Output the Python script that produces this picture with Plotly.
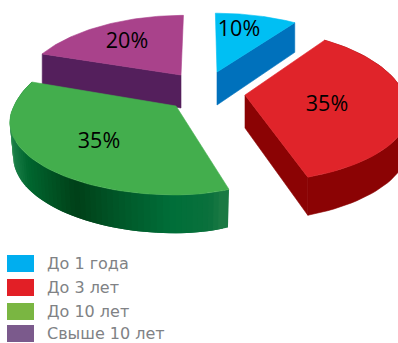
import math
import plotly.graph_objects as go

# Shares of each tenure group, clockwise from twelve o'clock
categories = ["До 1 года", "До 3 лет", "До 10 лет", "Свыше 10 лет"]
shares = [10, 35, 35, 20]
labels = ["10%", "35%", "35%", "20%"]

top_colors = ["#00bff3", "#e0242a", "#43ae4d", "#a9428b"]
wall_colors = ["#0071bc", "#8b0304", None, "#541f5c"]
legend_colors = ["#00aeef", "#e21f26", "#7ab642", "#7b5a8c"]

# Tilted-pie projection: exploded slice tips and per-slice scale factors
TIPS = [(217, 72), (245, 95), (176, 106), (181, 75)]
SCALES = [  # left, right, front, back, shear
    (159, 159, 70, 72, -2),
    (160, 160, 68, 80, 0),
    (162, 135, 69, 83, 0),
    (157, 157, 70, 73, 3),
]
LABEL_POS = [(239, 31), (327, 106), (99, 143), (127, 43)]
LEGEND_Y = [263.5, 287.5, 311.5, 333.5]
PERSPECTIVE = 0.224
DEPTH = 33
DEPTH_PERSPECTIVE = 0.14

# Side-wall shading of the green slice, by horizontal pixel position
GREEN_STOPS = [(9, (60, 150, 90)), (14, (25, 125, 70)), (30, (0, 102, 47)), (80, (0, 64, 24)),
               (130, (0, 89, 42)), (180, (0, 111, 57)), (215, (10, 112, 60)), (230, (31, 124, 69))]


def project(i, deg, dropped=False):
    """Map a point on the slice's rim to the page, optionally on the lower face."""
    left, right, front, back, shear = SCALES[i]
    x, y = math.sin(math.radians(deg)), math.cos(math.radians(deg))
    den = 1 + PERSPECTIVE * y
    u = (x * (right if x > 0 else left) + shear * y) / den
    v = -y * (back if y > 0 else front) / den
    if dropped:
        v += DEPTH / (1 + DEPTH_PERSPECTIVE * y)
        u *= 0.98 if i == 2 else 1
    return TIPS[i][0] + u, TIPS[i][1] + v


def green_shade(px):
    for (a, ca), (b, cb) in zip(GREEN_STOPS, GREEN_STOPS[1:]):
        if px <= b:
            f = max(0, (px - a) / (b - a))
            c = [round(p + (q - p) * f) for p, q in zip(ca, cb)]
            return f"rgb({c[0]},{c[1]},{c[2]})"
    return "rgb(31,124,69)"


def polygon(fig, pts, color, name, edge=0.6):
    fig.add_trace(go.Scatter(
        x=[p[0] for p in pts] + [pts[0][0]], y=[p[1] for p in pts] + [pts[0][1]],
        mode="lines", fill="toself", fillcolor=color,
        line=dict(color=color, width=edge), name=name, hoverinfo="skip", showlegend=False))


# Slice angle spans derived from the shares
total = sum(shares)
spans = []
start = 0.0
for s in shares:
    end = start + 360 * s / total
    spans.append((start, end))
    start = end

fig = go.Figure()


def arc(i, a, b, n=60, dropped=False):
    return [project(i, a + (b - a) * k / n, dropped) for k in range(n + 1)]


def radial_wall(i, deg):
    tip = TIPS[i]
    tip_low = (tip[0], tip[1] + DEPTH)
    polygon(fig, [tip, project(i, deg), project(i, deg, True), tip_low], wall_colors[i], categories[i])


# Back slices first, then the nearer ones over them
for i in (3, 0, 1, 2):
    a, b = spans[i]
    if i == 3:
        radial_wall(i, a)
    if i == 0:
        radial_wall(i, b)
    if i == 1:
        radial_wall(i, b)
        polygon(fig, arc(i, a, b) + arc(i, b, a, dropped=True), wall_colors[i], categories[i])
    if i == 2:
        # Wall strips painted from the left end to the right, each one overlapping its neighbour
        n = 70
        for k in range(n - 1, -1, -1):
            d0 = a + (b - a) * k / n
            d1 = min(b, a + (b - a) * (k + 2) / n)
            p0, p1 = project(i, d0), project(i, d1)
            q0, q1 = project(i, d0, True), project(i, d1, True)
            mid = project(i, a + (b - a) * (k + 0.5) / n)
            polygon(fig, [p0, p1, q1, q0], green_shade(mid[0]), categories[i], edge=0)
    polygon(fig, [TIPS[i]] + arc(i, a, b), top_colors[i], categories[i])

fig.add_trace(go.Scatter(
    x=[p[0] for p in LABEL_POS], y=[p[1] for p in LABEL_POS], text=labels, mode="text",
    textfont=dict(family="Open Sans", size=21.5, color="#000000"),
    hoverinfo="skip", showlegend=False))

# Legend drawn as swatches and captions
shapes = []
annotations = []
for name, color, y in zip(categories, legend_colors, LEGEND_Y):
    shapes.append(dict(type="rect", xref="x", yref="y", x0=7, x1=34, y0=y - 8.5, y1=y + 8.5,
                       fillcolor=color, line=dict(width=0)))
    annotations.append(dict(x=45, y=y, xref="x", yref="y", text=name, showarrow=False, xanchor="left",
                            yanchor="middle", font=dict(family="DejaVu Sans", size=16, color="#808285")))

fig.update_layout(
    width=398, height=343, margin=dict(l=0, r=0, t=0, b=0),
    paper_bgcolor="#ffffff", plot_bgcolor="#ffffff", showlegend=False,
    shapes=shapes, annotations=annotations,
    xaxis=dict(range=[0, 398], visible=False, fixedrange=True),
    yaxis=dict(range=[343, 0], visible=False, fixedrange=True),
)
fig.write_html("out.html", config=dict(displayModeBar=False))
